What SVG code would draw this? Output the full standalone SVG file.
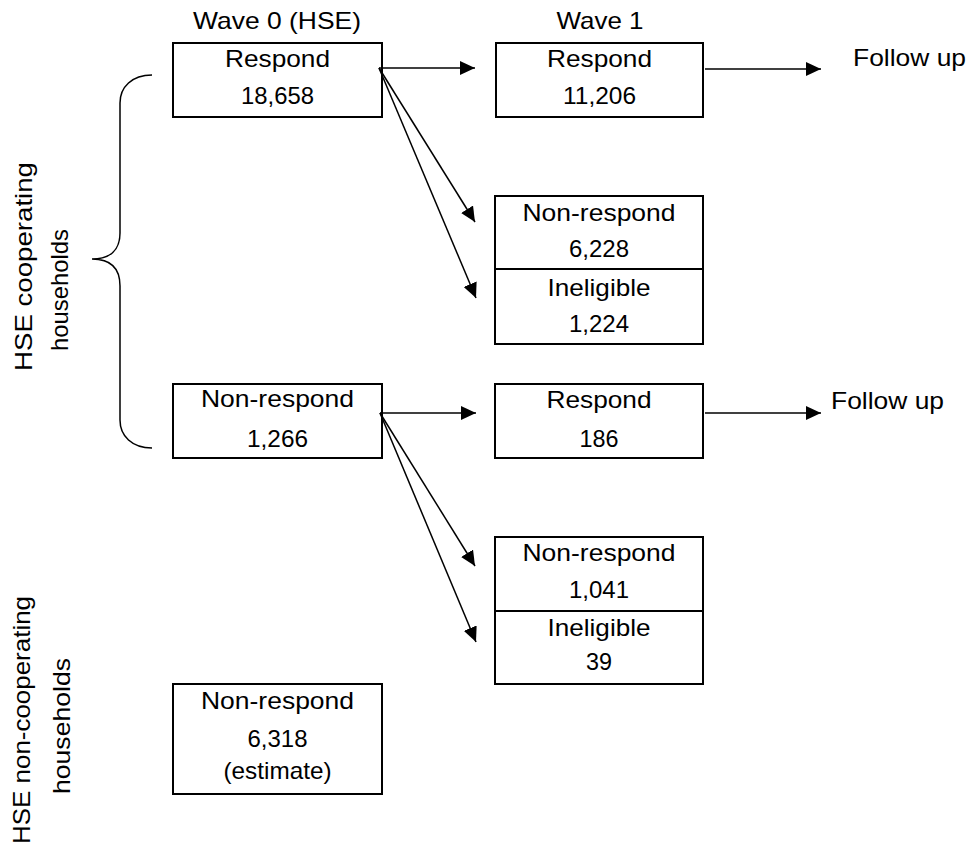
<svg xmlns="http://www.w3.org/2000/svg" width="972" height="855" viewBox="0 0 972 855">
<style>
  text { font-family: "Liberation Sans", Arial, sans-serif; font-size: 24px; fill: #000; }
  .c { text-anchor: middle; }
  .box { fill: #fff; stroke: #000; stroke-width: 2; }
  .div { stroke: #000; stroke-width: 2; }
  .con { stroke: #000; stroke-width: 1.5; fill: none; marker-end: url(#ah); }
  .brace { stroke: #000; stroke-width: 1.5; fill: none; }
</style>
<defs>
  <marker id="ah" markerUnits="userSpaceOnUse" markerWidth="15" markerHeight="14" refX="15" refY="7" orient="auto">
    <path d="M0,0 L15,7 L0,14 z" fill="#000"/>
  </marker>
</defs>
<rect width="972" height="855" fill="#fff"/>

<g id="headers">
  <text class="c" x="277" y="29" textLength="168" lengthAdjust="spacingAndGlyphs">Wave 0 (HSE)</text>
  <text class="c" x="600" y="29" textLength="87" lengthAdjust="spacingAndGlyphs">Wave 1</text>
</g>

<g id="side-labels">
  <path class="brace" d="M152,75 C132,75 120,87 120,103 L120,233 C120,250 110,259 92,259 C110,259 120,268 120,286 L120,420 C120,436 132,448 152,448"/>
  <text class="c" transform="translate(32,266.5) rotate(-90)" textLength="209" lengthAdjust="spacingAndGlyphs">HSE cooperating</text>
  <text class="c" transform="translate(68,290) rotate(-90)" textLength="122" lengthAdjust="spacingAndGlyphs">households</text>
  <text class="c" transform="translate(30,720) rotate(-90)" textLength="248" lengthAdjust="spacingAndGlyphs">HSE non-cooperating</text>
  <text class="c" transform="translate(70,726) rotate(-90)" textLength="136" lengthAdjust="spacingAndGlyphs">households</text>
</g>

<g id="w0-respond">
  <rect class="box" x="173" y="43" width="209" height="74"/>
  <text class="c" x="277.5" y="66.5" textLength="105" lengthAdjust="spacingAndGlyphs">Respond</text>
  <text class="c" x="277.5" y="103.5" textLength="73" lengthAdjust="spacingAndGlyphs">18,658</text>
</g>

<g id="w0-nonrespond">
  <rect class="box" x="173" y="384" width="209" height="74"/>
  <text class="c" x="277.5" y="407" textLength="153" lengthAdjust="spacingAndGlyphs">Non-respond</text>
  <text class="c" x="277.5" y="446.5" textLength="61" lengthAdjust="spacingAndGlyphs">1,266</text>
</g>

<g id="w0-noncoop">
  <rect class="box" x="173" y="684" width="209" height="110"/>
  <text class="c" x="277.5" y="709" textLength="153" lengthAdjust="spacingAndGlyphs">Non-respond</text>
  <text class="c" x="277.5" y="747" textLength="60" lengthAdjust="spacingAndGlyphs">6,318</text>
  <text class="c" x="277.5" y="779" textLength="108" lengthAdjust="spacingAndGlyphs">(estimate)</text>
</g>

<g id="w1-respond-a">
  <rect class="box" x="496" y="43" width="207" height="74"/>
  <text class="c" x="599.5" y="66.5" textLength="105" lengthAdjust="spacingAndGlyphs">Respond</text>
  <text class="c" x="599.5" y="103.5" textLength="73" lengthAdjust="spacingAndGlyphs">11,206</text>
</g>

<g id="w1-nonresp-a">
  <rect class="box" x="495" y="196" width="208" height="148"/>
  <line class="div" x1="495" y1="269" x2="703" y2="269"/>
  <text class="c" x="599" y="220.5" textLength="153" lengthAdjust="spacingAndGlyphs">Non-respond</text>
  <text class="c" x="599" y="257" textLength="60" lengthAdjust="spacingAndGlyphs">6,228</text>
  <text class="c" x="599" y="296" textLength="103" lengthAdjust="spacingAndGlyphs">Ineligible</text>
  <text class="c" x="599" y="331.5" textLength="60" lengthAdjust="spacingAndGlyphs">1,224</text>
</g>

<g id="w1-respond-b">
  <rect class="box" x="495" y="384" width="208" height="74"/>
  <text class="c" x="599" y="408" textLength="105" lengthAdjust="spacingAndGlyphs">Respond</text>
  <text class="c" x="599" y="446.5" textLength="39" lengthAdjust="spacingAndGlyphs">186</text>
</g>

<g id="w1-nonresp-b">
  <rect class="box" x="495" y="537" width="208" height="147"/>
  <line class="div" x1="495" y1="611" x2="703" y2="611"/>
  <text class="c" x="599" y="560.5" textLength="153" lengthAdjust="spacingAndGlyphs">Non-respond</text>
  <text class="c" x="599" y="598" textLength="60" lengthAdjust="spacingAndGlyphs">1,041</text>
  <text class="c" x="599" y="635.5" textLength="103" lengthAdjust="spacingAndGlyphs">Ineligible</text>
  <text class="c" x="599" y="670" textLength="26" lengthAdjust="spacingAndGlyphs">39</text>
</g>

<g id="follow-up-labels">
  <text x="853" y="66" textLength="113" lengthAdjust="spacingAndGlyphs">Follow up</text>
  <text x="831" y="409" textLength="113" lengthAdjust="spacingAndGlyphs">Follow up</text>
</g>

<g id="connectors">
  <path class="con" d="M379,68 L475,68"/>
  <path class="con" d="M379,68 L475,222"/>
  <path class="con" d="M379,68 L476,298"/>
  <path class="con" d="M705,69 L821,69"/>
  <path class="con" d="M380,413 L476,413"/>
  <path class="con" d="M380,413 L475,566"/>
  <path class="con" d="M380,413 L476,642"/>
  <path class="con" d="M705,413 L821,413"/>
</g>
</svg>
